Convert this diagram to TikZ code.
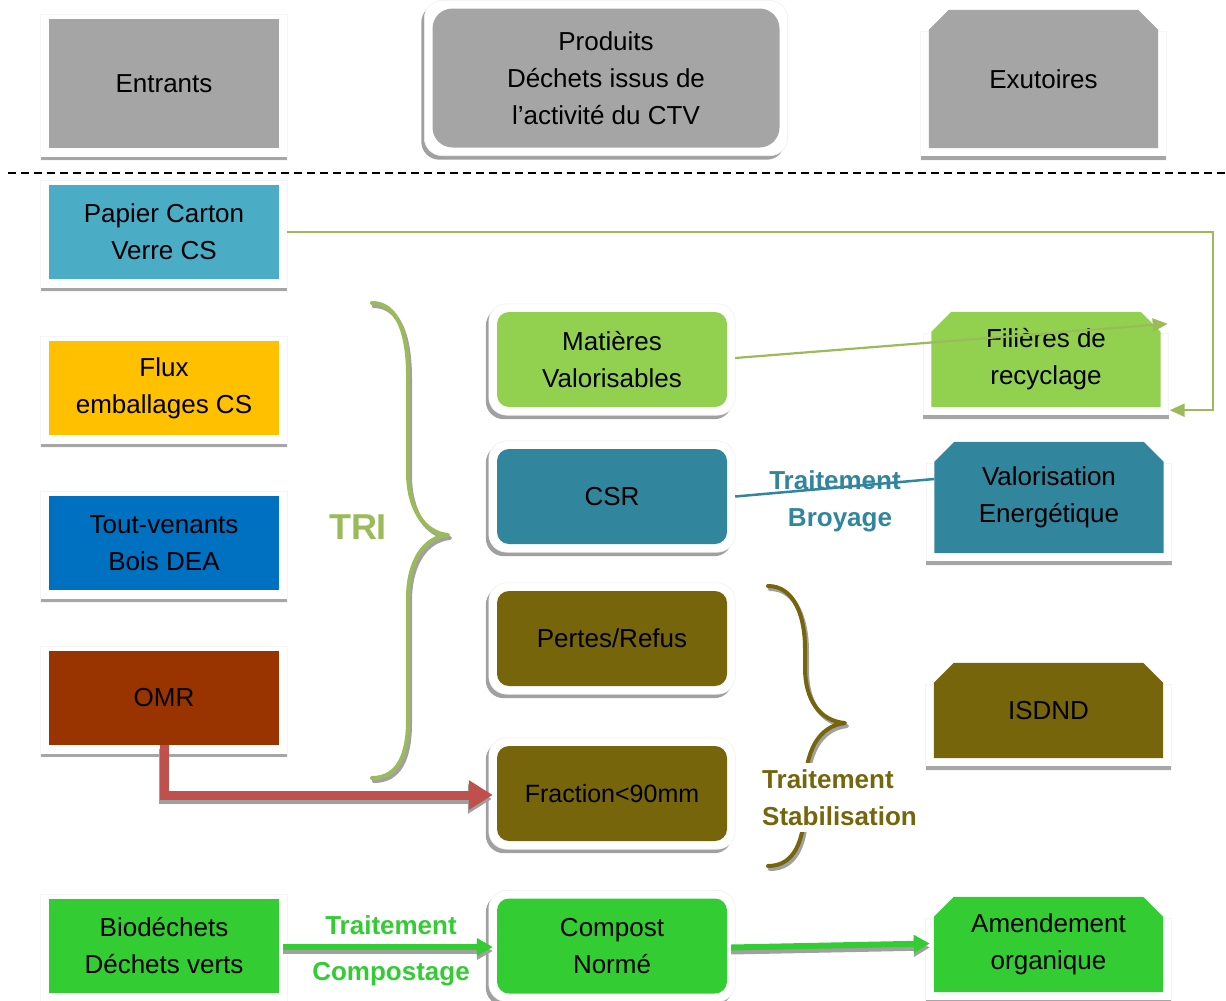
\documentclass[tikz,border=0pt]{standalone}
\usepackage{fontspec}
\setmainfont{Liberation Sans}
\usetikzlibrary{calc,arrows.meta}
\pgfdeclarelayer{background}
\pgfsetlayers{background,main}
\definecolor{cgray}{HTML}{A5A5A5}
\definecolor{cbar}{HTML}{A6A6A6}
\definecolor{cpap}{HTML}{4BACC6}
\definecolor{cflux}{HTML}{FFC000}
\definecolor{ctout}{HTML}{0070C0}
\definecolor{comr}{HTML}{993300}
\definecolor{cbio}{HTML}{33CC33}
\definecolor{cval}{HTML}{92D050}
\definecolor{cteal}{HTML}{31859C}
\definecolor{colive}{HTML}{76650B}
\definecolor{cline}{HTML}{9BBB59}
\definecolor{cred}{HTML}{C0504D}
\definecolor{cshadow}{HTML}{A0A0A0}
\begin{document}
\begin{tikzpicture}[x=1pt,y=-1pt,
  txt/.style={font=\fontsize{26}{37}\selectfont, align=center, inner sep=0pt, text=black},
  lbox/.style={txt, rectangle, minimum width=230pt, minimum height=94pt},
  mbox/.style={txt, rectangle, rounded corners=12pt, minimum width=230pt, minimum height=95pt},
  rbox/.style={txt, rectangle, minimum width=229pt, minimum height=95pt},
  blab/.style={font=\bfseries\fontsize{26}{37}\selectfont, align=center, inner sep=0pt},
  thinarrow/.style={line width=2.2pt, -{Triangle[length=15pt,width=13pt]}},
  brace/.style={line width=4pt, line cap=round, line join=round},
  bshadow/.style={brace, cshadow, transform canvas={shift={(2,3)}}}
]
\useasboundingbox (0,0) rectangle (1226,1001);

% dashed separator
\draw[black, line width=1.5pt, dash pattern=on 8pt off 5pt] (8,173) -- (1226,173);

% ---------- left column ----------
\node[lbox, fill=cgray, minimum height=129pt] (ent) at (164,83.5) {Entrants};
\node[lbox, fill=cpap] (pap) at (164,232) {Papier Carton\\Verre CS};
\node[lbox, fill=cflux] (flux) at (164,388) {Flux\\emballages CS};
\node[lbox, fill=ctout] (tout) at (164,543) {Tout-venants\\Bois DEA};
\node[lbox, fill=comr] (omr) at (164,697.5) {OMR};
\node[lbox, fill=cbio] (bio) at (164,946) {Biodéchets\\Déchets verts};

% ---------- middle column ----------
\node[mbox, fill=cgray, minimum width=347pt, minimum height=139pt, rounded corners=20pt] (prod) at (606,78) {Produits\\Déchets issus de\\l’activité du CTV};
\node[mbox, fill=cval] (mat) at (612,359.5) {Matières\\Valorisables};
\node[mbox, fill=cteal] (csr) at (612,496.5) {CSR};
\node[mbox, fill=colive] (per) at (612,638.5) {Pertes/Refus};
\node[mbox, fill=colive, font=\fontsize{25}{37}\selectfont] (fra) at (612,793.5) {Fraction<90mm};
\node[mbox, fill=cbio] (com) at (612,946) {Compost\\Normé};

% ---------- right column ----------
\node[rbox, minimum height=138pt] (exu) at (1043.5,79) {Exutoires};
\node[rbox] (fil) at (1046,359.5) {Filières de\\recyclage};
\node[rbox, minimum height=111pt] (val) at (1049,497.5) {Valorisation\\Energétique};
\node[rbox] (isd) at (1048.5,710.5) {ISDND};
\node[rbox] (ame) at (1048.5,944.5) {Amendement\\organique};

% ---------- decorations (background) ----------
\begin{pgfonlayer}{background}
\foreach \n in {ent,pap,flux,tout,omr,bio}{
  \fill[white, draw=black!4, line width=0.8pt] ($(\n.north west)+(-8,-4)$) rectangle ($(\n.south east)+(8,12)$);
  \fill[cbar] ($(\n.south west)+(-8,9)$) rectangle ($(\n.south east)+(8,12)$);
}
\foreach \n in {prod,mat,csr,per,fra,com}{
  \fill[cshadow, rounded corners=18pt] ($(\n.north west)+(-11,-4)$) rectangle ($(\n.south east)+(5,12)$);
  \fill[white, draw=black!6, line width=0.6pt, rounded corners=18pt] ($(\n.north west)+(-8,-8)$) rectangle ($(\n.south east)+(8,8)$);
}
\foreach \n/\c in {exu/cgray,fil/cval,val/cteal,isd/colive,ame/cbio}{
  \fill[white, draw=black!4, line width=0.8pt] ($(\n.north west)+(-8,22)$) rectangle ($(\n.south east)+(8,12)$);
  \fill[cbar] ($(\n.south west)+(-8,8)$) rectangle ($(\n.south east)+(8,12)$);
  \fill[\c] (\n.south west) -- ($(\n.north west)+(0,20)$) -- ($(\n.north west)+(20,0)$)
     -- ($(\n.north east)+(-20,0)$) -- ($(\n.north east)+(0,20)$) -- (\n.south east) -- cycle;
}
\end{pgfonlayer}

% ---------- labels ----------
\node[blab, text=cline, font=\bfseries\fontsize{36}{40}\selectfont] (tri) at (358,527) {TRI};
\node[blab, text=cteal] (tbroy) at (835,501.5) {Traitement\\\hspace*{10pt}Broyage};
\node[blab, text=cbio, font=\bfseries\fontsize{26}{46}\selectfont] (tcomp) at (391,951) {Traitement\\Compostage};

% ---------- braces ----------
\draw[bshadow] (372,303) .. controls (398,303) and (408,335) .. (408,375) -- (408,472)
   .. controls (408,510) and (425,533) .. (448,535)
   .. controls (425,537) and (408,560) .. (408,598) -- (408,720)
   .. controls (408,755) and (398,778) .. (372,778);
\draw[brace, cline] (372,303) .. controls (398,303) and (408,335) .. (408,375) -- (408,472)
   .. controls (408,510) and (425,533) .. (448,535)
   .. controls (425,537) and (408,560) .. (408,598) -- (408,720)
   .. controls (408,755) and (398,778) .. (372,778);

\draw[bshadow] (768,586) .. controls (795,586) and (805,618) .. (805,648) -- (805,668)
   .. controls (805,700) and (820,721) .. (845,723)
   .. controls (818,726) and (805,752) .. (805,790) -- (805,800)
   .. controls (805,840) and (795,866) .. (768,866);
\draw[brace, colive] (768,586) .. controls (795,586) and (805,618) .. (805,648) -- (805,668)
   .. controls (805,700) and (820,721) .. (845,723)
   .. controls (818,726) and (805,752) .. (805,790) -- (805,800)
   .. controls (805,840) and (795,866) .. (768,866);
\node[blab, text=colive, align=left, anchor=west, fill=white, inner xsep=2pt, inner ysep=6pt] (tstab) at (760,797.5) {Traitement\\Stabilisation};

% ---------- connectors ----------
\draw[cteal, line width=2.5pt] ($(csr.east)+(8,0)$) -- ($(val.west)+(0,-18.5)$);

\draw[cline, thinarrow] ($(pap.east)+(8,0)$) -- ++(926,0) |- ($(fil.south east)+(9,3)$);
\draw[cline, thinarrow] ($(mat.east)+(8,-1.5)$) -- ($(fil.north east)+(7,12)$);

\draw[cshadow, line width=9pt, -{Triangle[length=24pt,width=28pt]}, transform canvas={shift={(-1,4)}}]
   (omr.south) |- ($(fra.west)+(-4,1.5)$);
\draw[cred, line width=9pt, -{Triangle[length=24pt,width=28pt]}]
   (omr.south) |- ($(fra.west)+(-4,1.5)$);

\draw[cshadow, line width=6pt, -{Triangle[length=16pt,width=17pt]}, transform canvas={shift={(0,4)}}]
   ($(bio.east)+(4,1)$) -- ($(com.west)+(-4,1)$);
\draw[cbio, line width=6pt, -{Triangle[length=16pt,width=17pt]}]
   ($(bio.east)+(4,1)$) -- ($(com.west)+(-4,1)$);

\draw[cshadow, line width=6pt, -{Triangle[length=16pt,width=17pt]}, transform canvas={shift={(0,4)}}]
   ($(com.east)+(4,1.5)$) -- ($(ame.west)+(-4,-1)$);
\draw[cbio, line width=6pt, -{Triangle[length=16pt,width=17pt]}]
   ($(com.east)+(4,1.5)$) -- ($(ame.west)+(-4,-1)$);
\end{tikzpicture}
\end{document}
